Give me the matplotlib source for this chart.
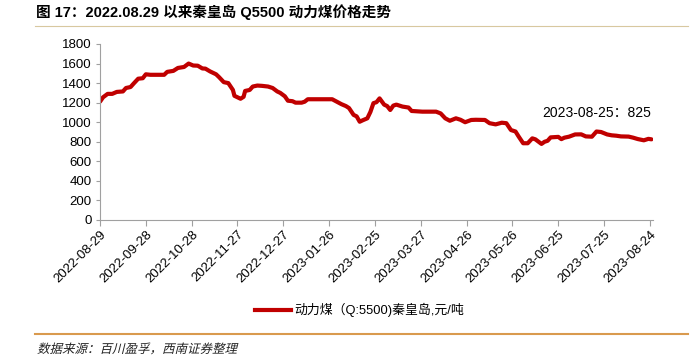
import numpy as np
import matplotlib
matplotlib.use("Agg")
import matplotlib.pyplot as plt
from matplotlib.lines import Line2D
from matplotlib.textpath import TextPath
from matplotlib.patches import PathPatch
from matplotlib.font_manager import FontProperties
from matplotlib.transforms import Affine2D

plt.rcParams['font.family'] = ['Liberation Sans', 'Noto Sans CJK SC', 'DejaVu Sans']

start_date = np.datetime64('2022-08-29')
day_offsets = [0, 2, 5, 8, 11, 15, 17, 20, 22, 25, 28, 30, 33, 42, 44, 48, 51, 55, 58, 61,
               64, 67, 69, 72, 76, 78, 81, 84, 87, 88, 90, 92, 94, 95, 98, 100, 103, 106, 110, 113,
               116, 118, 121, 123, 126, 128, 132, 134, 136, 140, 152, 155, 158, 161, 163, 166, 168, 170, 172, 175,
               177, 179, 181, 183, 186, 188, 190, 192, 194, 198, 202, 204, 211, 220, 223, 226, 229, 233, 236, 239,
               243, 246, 252, 255, 259, 263, 266, 269, 272, 274, 277, 280, 283, 285, 289, 291, 293, 295, 300, 302,
               304, 307, 311, 315, 318, 322, 325, 328, 332, 335, 338, 341, 346, 349, 352, 356, 359, 361]
prices = [1210, 1255, 1290, 1290, 1310, 1315, 1350, 1360, 1395, 1445, 1450, 1490, 1485, 1485, 1515, 1525, 1555, 1565, 1600, 1580,
          1578, 1550, 1548, 1520, 1490, 1460, 1410, 1400, 1330, 1270, 1255, 1240, 1260, 1320, 1330, 1365, 1375, 1372, 1365, 1350,
          1315, 1300, 1265, 1220, 1215, 1200, 1200, 1210, 1235, 1235, 1235, 1210, 1185, 1165, 1145, 1075, 1060, 1005, 1020, 1040,
          1105, 1195, 1205, 1244, 1180, 1165, 1125, 1170, 1180, 1160, 1150, 1115, 1108, 1108, 1090, 1040, 1015, 1040, 1025, 1000,
          1023, 1025, 1023, 990, 978, 995, 990, 920, 905, 855, 785, 785, 835, 825, 778, 800, 810, 845, 850, 827,
          842, 852, 875, 876, 855, 852, 905, 900, 875, 866, 862, 855, 853, 842, 828, 815, 830, 825]

tick_labels = ['2022-08-29', '2022-09-28', '2022-10-28', '2022-11-27', '2022-12-27', '2023-01-26', '2023-02-25',
               '2023-03-27', '2023-04-26', '2023-05-26', '2023-06-25', '2023-07-25', '2023-08-24']
y_ticks = [0, 200, 400, 600, 800, 1000, 1200, 1400, 1600, 1800]
series_name = '动力煤（Q:5500)秦皇岛,元/吨'
title = '图 17：2022.08.29 以来秦皇岛 Q5500 动力煤价格走势'
source = '数据来源：百川盈孚，西南证券整理'
annotation = '2023-08-25：825'

dates = start_date + np.array(day_offsets).astype('timedelta64[D]')
tick_dates = np.array(tick_labels, dtype='datetime64[D]')

fig = plt.figure(figsize=(6.91, 3.63), dpi=100)
ax = fig.add_axes([100/691, 1-220/363, 553/691, 176/363])

ax.plot(dates, prices, color='#c00000', lw=3.0, solid_capstyle='round', solid_joinstyle='round')

ax.set_xlim(start_date, np.datetime64('2023-08-26'))
ax.set_ylim(0, 1800)
ax.set_yticks(y_ticks)
ax.set_xticks(tick_dates)
ax.set_xticklabels(tick_labels, rotation=45, ha='right', rotation_mode='anchor', fontsize=9.5)
ax.tick_params(axis='y', labelsize=9.5, length=3, color='#a0a0a0', width=0.8, pad=3)
ax.tick_params(axis='x', length=4, color='#a0a0a0', width=0.8, pad=2)
for s in ['top', 'right']:
    ax.spines[s].set_visible(False)
for s in ['left', 'bottom']:
    ax.spines[s].set_color('#a0a0a0')
    ax.spines[s].set_linewidth(0.8)

ax.text(np.datetime64('2023-08-25'), 1092, annotation, ha='right', va='center', fontsize=10,
        family=['Liberation Sans', 'Noto Sans CJK SC'])

# legend
handle = Line2D([], [], color='#c00000', lw=3.0)
fig.legend([handle], [series_name], loc='center', bbox_to_anchor=(0.52, 1-310/363), frameon=False,
           handlelength=2.8, handletextpad=0.2,
           prop={'family': ['Liberation Sans', 'Noto Sans CJK SC'], 'size': 9.3})

# title and lines
fig.text(36/691, 1-12/363, title, ha='left', va='center', fontsize=10.5, fontweight='bold',
         family=['Liberation Sans', 'Noto Sans CJK SC'])
fig.add_artist(Line2D([35/691, 688/691], [1-25.5/363, 1-25.5/363], color='#d8c8a0', lw=0.8))
fig.add_artist(Line2D([35/691, 688/691], [1-334/363, 1-334/363], color='#d99a4e', lw=1.5))

# italic (slanted) source note
tp = TextPath((0, 0), source, size=9, prop=FontProperties(family='Noto Sans CJK SC'))
tr = Affine2D().skew_deg(14, 0).scale(1/72).translate(37/100, (363-353)/100) + fig.dpi_scale_trans
fig.add_artist(PathPatch(tp, transform=tr, facecolor='#222222', edgecolor='none'))

fig.savefig('out.png', dpi=100)
